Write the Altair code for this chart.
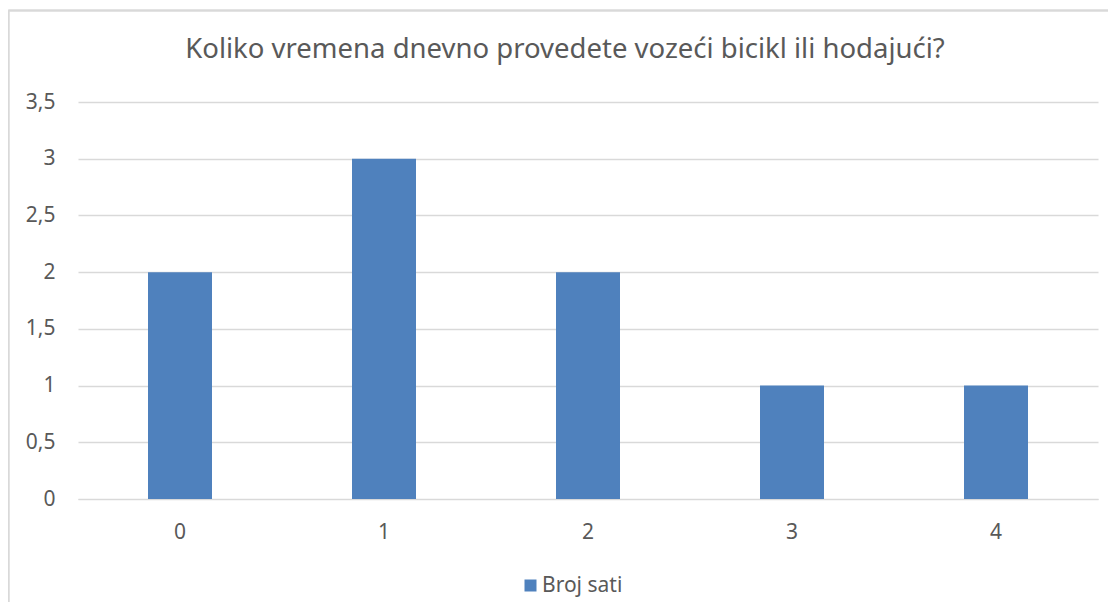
import altair as alt
import pandas as pd

categories = ["0", "1", "2", "3", "4"]
values = [2, 3, 2, 1, 1]
series_name = "Broj sati"
title_text = "Koliko vremena dnevno provedete vozeći bicikl ili hodajući?"

df = pd.DataFrame({"kategorija": categories, "vrijednost": values, "serija": [series_name] * len(categories)})

FONT = "Noto Sans"
GREY = "#595959"
LINE = "#d9d9d9"

bars = alt.Chart(df).mark_bar(size=64, color="#4F81BD").encode(
    x=alt.X("kategorija:N", sort=categories,
            scale=alt.Scale(paddingInner=0, paddingOuter=0),
            axis=alt.Axis(title=None, labelAngle=0, ticks=False, domainColor=LINE,
                          labelColor=GREY, labelFontSize=21, labelFont=FONT, labelPadding=22,
                          grid=False)),
    y=alt.Y("vrijednost:Q", scale=alt.Scale(domain=[0, 3.5], nice=False),
            axis=alt.Axis(title=None, values=[0, 0.5, 1, 1.5, 2, 2.5, 3, 3.5], domain=False, ticks=False,
                          labelColor=GREY, labelFontSize=21, labelFont=FONT, labelPadding=23,
                          gridColor=LINE, gridWidth=1.3,
                          labelExpr="replace(toString(datum.value), '.', ',')")),
    fill=alt.Fill("serija:N", scale=alt.Scale(range=["#4F81BD"]),
                  legend=alt.Legend(title=None, orient="none", legendX=442, legendY=473,
                                    symbolType="square", symbolSize=144, labelFontSize=21,
                                    labelColor=GREY, labelFont=FONT, labelOffset=1)),
)

top_line = alt.Chart(df).mark_rule(stroke=LINE, strokeWidth=1.5, clip=False).encode(
    x=alt.value(-69.5), x2=alt.value(1040), y=alt.value(-91.5)
)
left_line = alt.Chart(df).mark_rule(stroke=LINE, strokeWidth=1.5, clip=False).encode(
    x=alt.value(-69.5), y=alt.value(-91.5), y2=alt.value(500)
)

chart = alt.layer(bars, top_line, left_line).properties(
    width=1020, height=397,
    title=alt.TitleParams(title_text, font=FONT, fontSize=27.5, color=GREY, fontWeight="normal",
                          anchor="middle", offset=-54, dx=-23),
    autosize=alt.AutoSizeParams(type="none"),
    padding={"left": 70, "top": 94, "right": 10, "bottom": 108},
).configure_view(stroke=None)

chart.save("out.html", embed_options={"renderer": "svg", "actions": False})
